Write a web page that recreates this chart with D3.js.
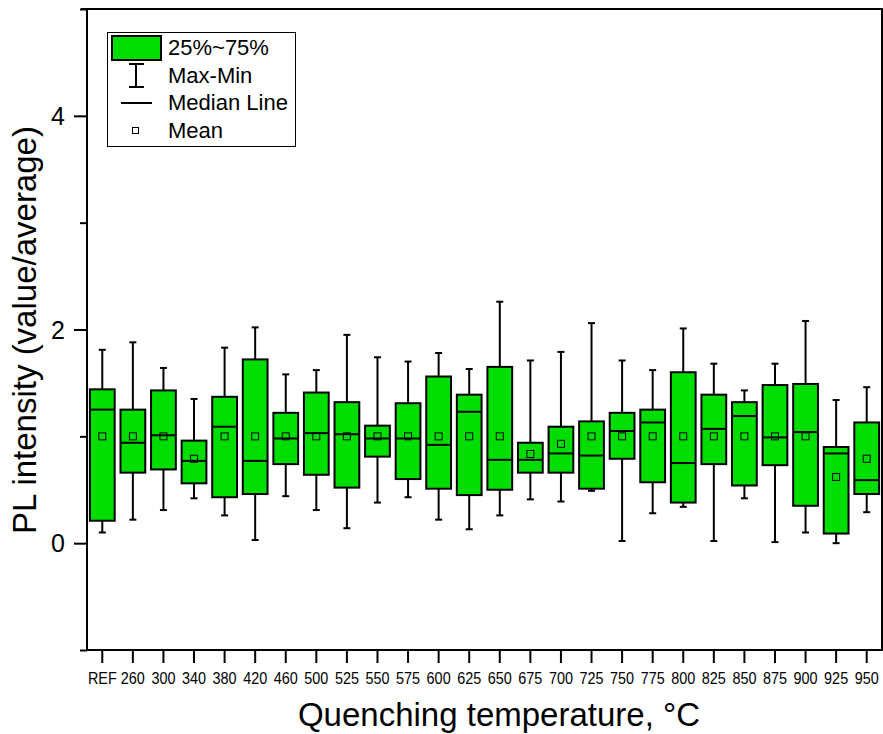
<!DOCTYPE html>
<html>
<head>
<meta charset="utf-8">
<script src="https://cdn.jsdelivr.net/npm/d3@7"></script>
<style>
  body { margin: 0; background: #fff; }
  text { font-family: "Liberation Sans", Arial, sans-serif; fill: #000; }
</style>
</head>
<body>
<div id="chart"></div>
<script>
// box statistics, one entry per quenching temperature
var cats = ['REF', '260', '300', '340', '380', '420', '460', '500', '525', '550', '575', '600', '625',
            '650', '675', '700', '725', '750', '775', '800', '825', '850', '875', '900', '925', '950'];
var maxV   = [1.81, 1.88, 1.64, 1.35, 1.83, 2.02, 1.58, 1.62, 1.95, 1.74, 1.70, 1.78, 1.63,
              2.26, 1.71, 1.79, 2.06, 1.71, 1.62, 2.01, 1.68, 1.43, 1.68, 2.08, 1.34, 1.46];
var q3     = [1.44, 1.25, 1.43, 0.96, 1.37, 1.72, 1.22, 1.41, 1.32, 1.10, 1.31, 1.56, 1.39,
              1.65, 0.94, 1.09, 1.14, 1.22, 1.25, 1.60, 1.39, 1.32, 1.48, 1.49, 0.90, 1.13];
var median = [1.25, 0.94, 1.01, 0.77, 1.09, 0.77, 0.98, 1.03, 1.02, 0.98, 0.98, 0.92, 1.23,
              0.78, 0.78, 0.84, 0.82, 1.05, 1.13, 0.75, 1.07, 1.19, 0.99, 1.04, 0.84, 0.59];
var q1     = [0.21, 0.66, 0.69, 0.56, 0.43, 0.46, 0.74, 0.64, 0.52, 0.81, 0.60, 0.51, 0.45,
              0.50, 0.66, 0.66, 0.51, 0.79, 0.57, 0.38, 0.74, 0.54, 0.73, 0.35, 0.09, 0.46];
var minV   = [0.10, 0.22, 0.31, 0.42, 0.26, 0.03, 0.44, 0.31, 0.14, 0.38, 0.43, 0.22, 0.13,
              0.26, 0.41, 0.39, 0.49, 0.02, 0.28, 0.34, 0.02, 0.42, 0.01, 0.10, 0.00, 0.29];
var mean   = [1.00, 1.00, 1.00, 0.79, 1.00, 1.00, 1.00, 1.00, 1.00, 1.00, 1.00, 1.00, 1.00,
              1.00, 0.835, 0.93, 1.00, 1.00, 1.00, 1.00, 1.00, 1.00, 1.00, 1.00, 0.62, 0.79];

var yMajor = [0, 2, 4];
var yMinor = [-1, 1, 3, 5];
var legendItems = ['25%~75%', 'Max-Min', 'Median Line', 'Mean'];

var width = 883, height = 734;
var pLeft = 87, pRight = 882, pTop = 9, pBottom = 650;
var green = '#00dd00';

var rows = cats.map(function(c, i) {
  return { cat: c, max: maxV[i], q3: q3[i], med: median[i], q1: q1[i], min: minV[i], mean: mean[i] };
});

var x = d3.scaleBand().domain(cats).range([pLeft, pRight]).padding(0);
var y = d3.scaleLinear().domain([-1, 5]).range([pBottom, pTop]);

var svg = d3.select('#chart').append('svg')
    .attr('width', width)
    .attr('height', height);

// frame top / right
svg.append('line').attr('x1', pLeft - 6).attr('x2', pRight + 1).attr('y1', pTop).attr('y2', pTop)
    .attr('stroke', '#000').attr('stroke-width', 2);
svg.append('line').attr('x1', pRight).attr('x2', pRight).attr('y1', pTop).attr('y2', pBottom)
    .attr('stroke', '#000').attr('stroke-width', 2);

// y axis
var yAxis = svg.append('g')
    .attr('transform', 'translate(' + pLeft + ',0)')
    .call(d3.axisLeft(y).tickValues(yMajor).tickSize(13).tickFormat(d3.format('d')));
yAxis.select('.domain').attr('stroke-width', 2).attr('d', 'M0,' + (pTop - 1) + 'V' + pBottom);
yAxis.selectAll('.tick line').attr('stroke-width', 2);
yAxis.selectAll('.tick text').attr('font-size', 25).attr('x', -22).attr('dy', '0.34em')
    .style('font-family', '"Liberation Sans", Arial, sans-serif');

var yMin = svg.append('g')
    .attr('transform', 'translate(' + pLeft + ',0)')
    .call(d3.axisLeft(y).tickValues(yMinor).tickSize(7).tickFormat(''));
yMin.select('.domain').remove();
yMin.selectAll('.tick line').attr('stroke-width', 2);

// x axis (labels squeezed to look like a narrow face)
var xAxis = svg.append('g')
    .attr('transform', 'translate(0,' + pBottom + ')')
    .call(d3.axisBottom(x).tickSize(13));
xAxis.select('.domain').attr('stroke-width', 2).attr('d', 'M' + (pLeft - 1) + ',0H' + (pRight + 1));
xAxis.selectAll('.tick line').attr('stroke-width', 2);
xAxis.selectAll('.tick text')
    .attr('font-size', 16).attr('y', 34).attr('dy', null)
    .attr('transform', 'scale(0.9,1)')
    .style('font-family', '"Liberation Sans", Arial, sans-serif');

// axis titles
svg.append('text')
    .attr('x', 499).attr('y', 726)
    .attr('text-anchor', 'middle')
    .attr('font-size', 33)
    .text('Quenching temperature, °C');

svg.append('text')
    .attr('transform', 'translate(36,' + 330 + ') rotate(-90)')
    .attr('text-anchor', 'middle')
    .attr('font-size', 33)
    .text('PL intensity (value/average)');

// boxes
var bw = x.bandwidth() * 0.81;
var capW = 7;
var g = svg.append('g');
var box = g.selectAll('g.box').data(rows).enter()
  .append('g').attr('class', 'box')
    .attr('transform', function(d) { return 'translate(' + (x(d.cat) + x.bandwidth() / 2) + ',0)'; });

box.append('line').attr('x1', 0).attr('x2', 0)
    .attr('y1', function(d) { return y(d.max); })
    .attr('y2', function(d) { return y(d.min); })
    .attr('stroke', '#000').attr('stroke-width', 2);
box.append('line').attr('x1', -capW / 2).attr('x2', capW / 2)
    .attr('y1', function(d) { return y(d.max); }).attr('y2', function(d) { return y(d.max); })
    .attr('stroke', '#000').attr('stroke-width', 2);
box.append('line').attr('x1', -capW / 2).attr('x2', capW / 2)
    .attr('y1', function(d) { return y(d.min); }).attr('y2', function(d) { return y(d.min); })
    .attr('stroke', '#000').attr('stroke-width', 2);
box.append('rect')
    .attr('x', -bw / 2).attr('width', bw)
    .attr('y', function(d) { return y(d.q3); })
    .attr('height', function(d) { return y(d.q1) - y(d.q3); })
    .attr('fill', green).attr('stroke', '#000').attr('stroke-width', 2);
box.append('line').attr('x1', -bw / 2).attr('x2', bw / 2)
    .attr('y1', function(d) { return y(d.med); }).attr('y2', function(d) { return y(d.med); })
    .attr('stroke', '#000').attr('stroke-width', 2);
box.append('rect')
    .attr('x', -3.5).attr('width', 7).attr('height', 7)
    .attr('y', function(d) { return y(d.mean) - 3.5; })
    .attr('fill', 'none').attr('stroke', '#000').attr('stroke-width', 1);

// legend
var lg = svg.append('g');
lg.append('rect').attr('x', 107.5).attr('y', 32.5).attr('width', 188).attr('height', 114)
    .attr('fill', '#fff').attr('stroke', '#000').attr('stroke-width', 1);
lg.append('rect').attr('x', 112).attr('y', 36).attr('width', 49).attr('height', 24)
    .attr('fill', green).attr('stroke', '#000').attr('stroke-width', 2);
lg.append('line').attr('x1', 136).attr('x2', 136).attr('y1', 64).attr('y2', 87)
    .attr('stroke', '#000').attr('stroke-width', 2);
lg.append('line').attr('x1', 129).attr('x2', 144).attr('y1', 64).attr('y2', 64)
    .attr('stroke', '#000').attr('stroke-width', 2);
lg.append('line').attr('x1', 129).attr('x2', 144).attr('y1', 87).attr('y2', 87)
    .attr('stroke', '#000').attr('stroke-width', 2);
lg.append('line').attr('x1', 121).attr('x2', 152).attr('y1', 103).attr('y2', 103)
    .attr('stroke', '#000').attr('stroke-width', 2);
lg.append('rect').attr('x', 132.5).attr('y', 127.5).attr('width', 6).attr('height', 6)
    .attr('fill', 'none').attr('stroke', '#000').attr('stroke-width', 1);
lg.selectAll('text.lab').data(legendItems).enter()
  .append('text').attr('class', 'lab')
    .attr('x', 168)
    .attr('y', function(d, i) { return 55 + i * 27.7; })
    .attr('font-size', 22)
    .text(function(d) { return d; });
</script>
</body>
</html>
